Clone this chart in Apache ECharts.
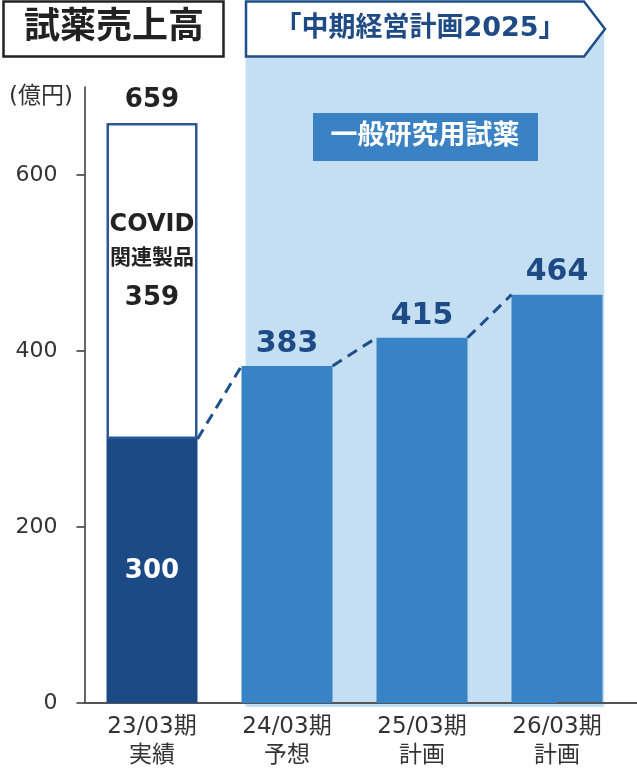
<!DOCTYPE html>
<html>
<head>
<meta charset="utf-8">
<script src="https://cdn.jsdelivr.net/npm/echarts@6/dist/echarts.min.js"></script>
<style>
  html, body { margin: 0; padding: 0; background: #fff; }
  #chart { width: 637px; height: 771px; }
</style>
</head>
<body>
<div id="chart"></div>
<script>
// Reagent sales (100 million yen) by fiscal period
const categories = ['23/03期\n実績', '24/03期\n予想', '25/03期\n計画', '26/03期\n計画'];
const generalReagents = [300, 383, 415, 464];   // 一般研究用試薬
const covidProducts = [359, null, null, null];  // COVID関連製品
const totalSales = [659, null, null, null];     // 合計
const yTicks = [0, 200, 400, 600];
const yMax = 700;

const FONT = '"DejaVu Sans", "Noto Sans CJK JP", sans-serif';
const NAVY = '#1c4a85';
const BLUE = '#3783c5';
const LABEL_BLUE = '#1e4a85';
const BAR_W = 91;

const chart = echarts.init(document.getElementById('chart'), null, { renderer: 'canvas' });

// Per-item styling for the general reagent bars: first one is actual (dark), rest are plan (blue)
const reagentData = generalReagents.map((v, i) => ({
  value: v,
  itemStyle: { color: i === 0 ? NAVY : BLUE },
  label: i === 0
    ? { show: true, position: 'inside', color: '#fff', fontSize: 26, fontWeight: 'bold', fontFamily: FONT }
    : { show: true, position: 'top', distance: 7, color: LABEL_BLUE, fontSize: 30, fontWeight: 'bold', fontFamily: FONT }
}));

// Dashed connectors between consecutive bar tops
const connectorData = generalReagents.slice(0, -1).map((v, i) => [i, v, generalReagents[i + 1]]);

chart.setOption({
  animation: false,
  grid: { left: 84.5, right: 12.5, top: 87, bottom: 68 },
  xAxis: {
    type: 'category',
    data: categories,
    axisLine: { lineStyle: { color: '#555', width: 2 } },
    axisTick: { show: false },
    axisLabel: { fontSize: 23, lineHeight: 29, color: '#333', margin: 10, fontFamily: FONT }
  },
  yAxis: {
    type: 'value',
    min: 0,
    max: yMax,
    splitLine: { show: false },
    axisLine: { show: true, lineStyle: { color: '#333', width: 1.5 } },
    axisTick: { show: true, length: 8, customValues: yTicks, lineStyle: { color: '#333', width: 1.5 } },
    axisLabel: { customValues: yTicks, fontSize: 22, color: '#333', margin: 27, fontFamily: FONT }
  },
  series: [
    {
      name: '一般研究用試薬',
      type: 'bar',
      stack: 'sales',
      barWidth: BAR_W,
      data: reagentData,
      z: 3
    },
    {
      name: 'COVID関連製品',
      type: 'bar',
      stack: 'sales',
      barWidth: BAR_W,
      data: covidProducts,
      itemStyle: { color: '#fff', borderColor: '#2a5896', borderWidth: 2.5 },
      label: {
        show: true,
        position: 'inside',
        offset: [0, -17],
        fontFamily: FONT,
        color: '#222',
        formatter: p => '{a|COVID}\n{b|関連製品}\n{c|' + p.value + '}',
        rich: {
          a: { fontSize: 24, fontWeight: 'bold', color: '#222', lineHeight: 34, fontFamily: FONT },
          b: { fontSize: 21, fontWeight: 'bold', color: '#222', lineHeight: 34, fontFamily: FONT },
          c: { fontSize: 26, fontWeight: 'bold', color: '#222', lineHeight: 44, fontFamily: FONT }
        }
      },
      z: 3
    },
    {
      name: '合計',
      type: 'scatter',
      data: totalSales,
      symbolSize: 1,
      itemStyle: { color: 'rgba(0,0,0,0)', opacity: 1 },
      label: {
        show: true,
        position: 'top',
        distance: 9,
        formatter: p => String(p.value),
        fontSize: 26,
        fontWeight: 'bold',
        color: '#222',
        opacity: 1,
        fontFamily: FONT
      },
      z: 4
    },
    {
      name: 'connector',
      type: 'custom',
      data: connectorData,
      z: 4,
      renderItem: (params, api) => {
        const i = api.value(0);
        const a = api.coord([i, api.value(1)]);
        const b = api.coord([i + 1, api.value(2)]);
        const half = BAR_W / 2;
        return {
          type: 'line',
          shape: { x1: a[0] + half, y1: a[1], x2: b[0] - half, y2: b[1] },
          style: { stroke: '#1f4e8c', lineWidth: 3, lineDash: [11, 7] }
        };
      }
    }
  ]
});

// Decorations positioned relative to the plot
const p1 = chart.convertToPixel({ xAxisIndex: 0, yAxisIndex: 0 }, [1, 0]);
const p3 = chart.convertToPixel({ xAxisIndex: 0, yAxisIndex: 0 }, [3, 0]);
const band = (p3[0] - p1[0]) / 2;
const bgLeft = p1[0] - band * 0.307;
const bgRight = p3[0] + band * 0.35;

chart.setOption({
  graphic: [
    {
      type: 'rect', z: -10, silent: true,
      shape: { x: bgLeft, y: 29, width: bgRight - bgLeft, height: p1[1] + 4 - 29 },
      style: { fill: '#c5dff2' }
    },
    {
      type: 'line', z: 10, silent: true,
      shape: { x1: p3[0], y1: p1[1], x2: 637, y2: p1[1] },
      style: { stroke: '#555', lineWidth: 2 }
    },
    {
      type: 'polygon', z: 10, silent: true,
      shape: { points: [[246, 1.5], [584, 1.5], [605, 29], [584, 56.5], [246, 56.5]] },
      style: { fill: '#fff', stroke: '#1f4e8c', lineWidth: 2.5 }
    },
    {
      type: 'text', z: 11, silent: true,
      x: 420, y: 29,
      style: {
        text: '「中期経営計画2025」', fill: '#1e4a85',
        font: 'bold 27px ' + FONT, align: 'center', verticalAlign: 'middle'
      }
    },
    {
      type: 'rect', z: 10, silent: true,
      shape: { x: 3.5, y: 1.5, width: 220, height: 55 },
      style: { fill: '#fff', stroke: '#222', lineWidth: 2.5 }
    },
    {
      type: 'text', z: 11, silent: true,
      x: 114, y: 29,
      style: {
        text: '試薬売上高', fill: '#222',
        font: 'bold 36px ' + FONT, align: 'center', verticalAlign: 'middle'
      }
    },
    {
      type: 'rect', z: 10, silent: true,
      shape: { x: 313, y: 113, width: 225, height: 48 },
      style: { fill: '#3a82c4' }
    },
    {
      type: 'text', z: 11, silent: true,
      x: 425, y: 137,
      style: {
        text: '一般研究用試薬', fill: '#fff',
        font: 'bold 27px ' + FONT, align: 'center', verticalAlign: 'middle'
      }
    },
    {
      type: 'text', z: 11, silent: true,
      x: 41, y: 97,
      style: {
        text: '(億円)', fill: '#333',
        font: '23px ' + FONT, align: 'center', verticalAlign: 'middle'
      }
    }
  ]
});
</script>
</body>
</html>
